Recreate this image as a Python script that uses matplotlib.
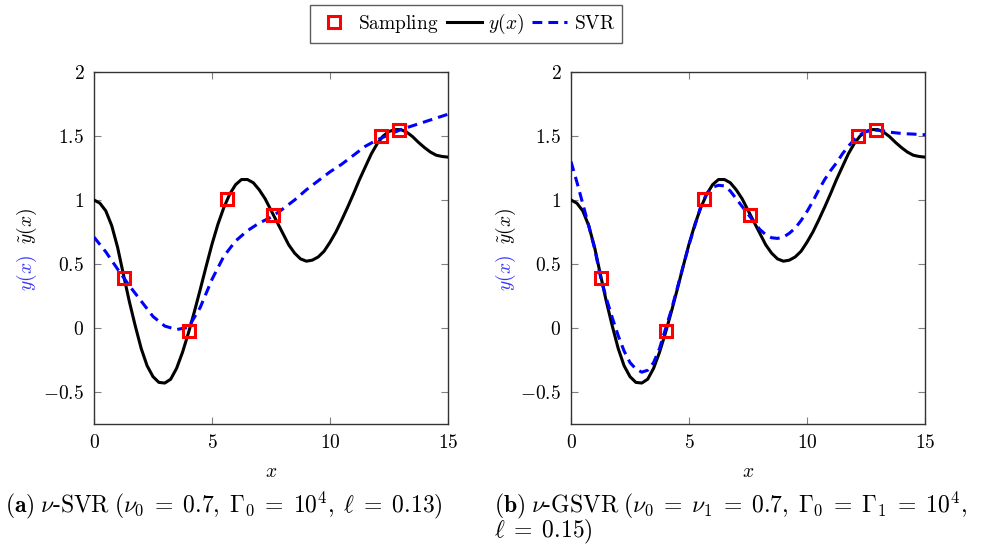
import numpy as np
import matplotlib
matplotlib.use("Agg")
import matplotlib.pyplot as plt

plt.rcParams['mathtext.fontset'] = 'cm'
plt.rcParams['font.family'] = 'serif'
plt.rcParams['font.serif'] = ['DejaVu Serif']
plt.rcParams['axes.unicode_minus'] = True

# ---- data ----
samp_x = [1.27, 4.03, 5.62, 7.60, 12.16, 12.91]
samp_y = [0.39, -0.02, 1.01, 0.88, 1.50, 1.55]

# true function y(x), step 0.25
x_fine = np.arange(0, 15.01, 0.25)
y_true = [1.00, 0.975, 0.915, 0.80, 0.63, 0.415, 0.205, 0.015, -0.16, -0.295,
          -0.38, -0.425, -0.43, -0.40, -0.315, -0.19, -0.04, 0.125, 0.30, 0.48,
          0.655, 0.81, 0.94, 1.045, 1.12, 1.16, 1.16, 1.135, 1.08, 1.01,
          0.92, 0.83, 0.74, 0.65, 0.585, 0.54, 0.522, 0.53, 0.555, 0.60,
          0.67, 0.75, 0.845, 0.945, 1.05, 1.16, 1.26, 1.36, 1.44, 1.50,
          1.535, 1.55, 1.55, 1.53, 1.495, 1.45, 1.41, 1.375, 1.35, 1.34,
          1.335]

# nu-SVR prediction, step 0.5
x_coarse = np.arange(0, 15.01, 0.5)
y_svr_a = [0.71, 0.595, 0.46, 0.33, 0.21, 0.09, 0.015, -0.012, 0.005, 0.16,
           0.38, 0.56, 0.68, 0.76, 0.82, 0.865, 0.93, 1.00, 1.08, 1.15,
           1.22, 1.28, 1.35, 1.42, 1.47, 1.51, 1.55, 1.58, 1.61, 1.64,
           1.67]

# nu-GSVR prediction, step 0.25
y_svr_b = [1.30, 1.14, 0.97, 0.80, 0.62, 0.40, 0.23, 0.08, -0.06, -0.18,
           -0.27, -0.32, -0.345, -0.33, -0.27, -0.16, -0.01, 0.14, 0.31, 0.48,
           0.65, 0.80, 0.95, 1.05, 1.10, 1.115, 1.11, 1.07, 1.01, 0.95,
           0.89, 0.83, 0.77, 0.73, 0.705, 0.70, 0.71, 0.74, 0.78, 0.84,
           0.91, 0.99, 1.08, 1.16, 1.23, 1.29, 1.36, 1.42, 1.47, 1.51,
           1.535, 1.545, 1.545, 1.54, 1.53, 1.525, 1.52, 1.517, 1.515, 1.512,
           1.51]

xticks = [0, 5, 10, 15]
xticklabels = ['$0$', '$5$', '$10$', '$15$']
yticks = [-0.5, 0, 0.5, 1, 1.5, 2]
yticklabels = ['$-0.5$', '$0$', '$0.5$', '$1$', '$1.5$', '$2$']

captions = [r'$\mathbf{(a)}\;\nu\mathrm{\text{-}SVR}\;(\nu_0\;=\;0.7,\;\Gamma_0\;=\;10^4,\;\ell\;=\;0.13)$',
            r'$\mathbf{(b)}\;\nu\mathrm{\text{-}GSVR}\;(\nu_0\;=\;\nu_1\;=\;0.7,\;\Gamma_0\;=\;\Gamma_1\;=\;10^4,$']
caption_b2 = r'$\ell\;=\;0.15)$'

fig = plt.figure(figsize=(9.83, 5.49), dpi=100)
ax1 = fig.add_axes([94/983, 1-424/549, 354/983, 352/549])
ax2 = fig.add_axes([571/983, 1-424/549, 354/983, 352/549])

for ax, ysvr, xs in [(ax1, y_svr_a, x_coarse), (ax2, y_svr_b, x_fine)]:
    l_true, = ax.plot(x_fine, y_true, color='black', lw=2.2, zorder=3,
                      solid_joinstyle='round')
    l_svr, = ax.plot(xs, ysvr, color='#0000ff', lw=2.2, dashes=(3.2, 2.0),
                     zorder=4)
    l_s, = ax.plot(samp_x, samp_y, ls='none', marker='s', ms=9, mew=2.2,
                   mec='#ff0000', mfc='none', zorder=5)
    ax.set_xlim(0, 15)
    ax.set_ylim(-0.75, 2)
    ax.set_xticks(xticks)
    ax.set_xticklabels(xticklabels, fontsize=14)
    ax.set_yticks(yticks)
    ax.set_yticklabels(yticklabels, fontsize=14)
    ax.tick_params(direction='in', length=5, width=0.8, color='#808080',
                   top=True, right=True, pad=7)
    for sp in ax.spines.values():
        sp.set_linewidth(1.0)
        sp.set_color('#333333')
    ax.set_xlabel('$x$', fontsize=14, labelpad=8)

# y labels (two colours)
for xp in [27, 506]:
    fig.text(xp/983, 1-273/549, '$y(x)$', color='#3333ff', fontsize=14,
             rotation=90, ha='center', va='center')
    fig.text(xp/983, 1-226/549, r'$\tilde{y}(x)$', color='black', fontsize=14,
             rotation=90, ha='center', va='center')

# captions
fig.text(5/983, 1-505/549, captions[0], fontsize=17, ha='left', va='center')
fig.text(494/983, 1-505/549, captions[1], fontsize=17, ha='left', va='center')
fig.text(494/983, 1-532/549, caption_b2, fontsize=17, ha='left', va='center')

leg = fig.legend([l_s, l_true, l_svr],
                 [r'$\mathrm{Sampling}$', '$y(x)$', r'$\mathrm{SVR}$'],
                 loc='upper center', bbox_to_anchor=(466/983, 1-5/549),
                 ncol=3, fontsize=14, frameon=True, fancybox=False,
                 handlelength=1.8, handletextpad=0.35, columnspacing=0.4,
                 borderpad=0.35, borderaxespad=0)
leg.get_frame().set_edgecolor('#333333')
leg.get_frame().set_linewidth(1.0)

fig.savefig('out.png', dpi=100)
